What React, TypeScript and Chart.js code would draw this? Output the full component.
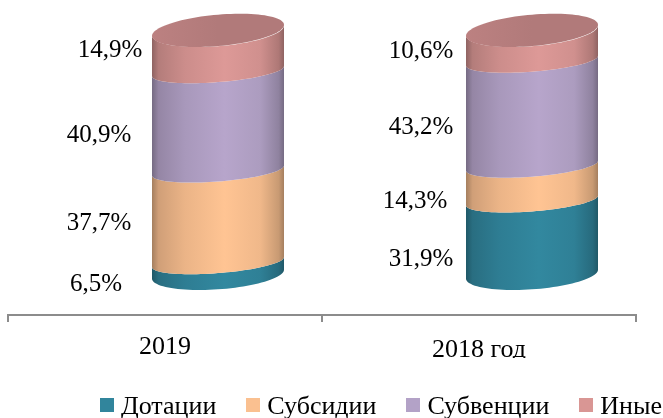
import React, { useEffect, useRef } from "react";
import { Chart, registerables } from "chart.js";

Chart.register(...registerables);

const categories = ["2019", "2018 год"];
const seriesNames = ["Дотации", "Субсидии", "Субвенции", "Иные"];
const dotacii = [6.5, 31.9];
const subsidii = [37.7, 14.3];
const subvencii = [40.9, 43.2];
const inye = [14.9, 10.6];
const seriesColors = ["#31859C", "#FAC090", "#B3A2C7", "#D99694"];
const capColor = "#B57C7C";

const FONT = "'Liberation Serif', 'Times New Roman', serif";

// label nudges relative to category centre / segment centre, per series then category
const labelDx = [[-69, -58], [-66, -64], [-66, -58], [-55, -58]];
const labelDy = [[2, 8], [-5, 6], [3, 2], [-15, -8]];

function shade(hex: string, f: number) {
  const n = parseInt(hex.slice(1), 16);
  const c = [(n >> 16) & 255, (n >> 8) & 255, n & 255].map((v) => Math.round(v * f));
  return `rgb(${c[0]},${c[1]},${c[2]})`;
}

function curve(ctx: CanvasRenderingContext2D, cx: number, a: number, low: number, b: number, s: number, from: number, to: number, first: boolean) {
  const cy = low - Math.sqrt(b * b + s * s);
  const steps = 48;
  for (let i = 0; i <= steps; i++) {
    const t = from + ((to - from) * i) / steps;
    const x = cx + a * Math.cos(t);
    const y = cy + b * Math.sin(t) - s * Math.cos(t);
    if (i === 0 && first) ctx.moveTo(x, y);
    else ctx.lineTo(x, y);
  }
}

const cylinderPlugin = {
  id: "cylinder",
  beforeDatasetDraw() {
    return false;
  },
  afterDatasetsDraw(chart: any) {
    const ctx: CanvasRenderingContext2D = chart.ctx;
    const depthX = 53;
    const n = chart.data.datasets.length;
    ctx.save();
    for (let d = 0; d < n; d++) {
      const meta = chart.getDatasetMeta(d);
      const color = seriesColors[d];
      meta.data.forEach((bar: any) => {
        const p = bar.getProps(["x", "y", "base", "width"], true);
        const cx = p.x + depthX;
        const a = p.width / 2;
        const g = ctx.createLinearGradient(cx - a, 0, cx + a, 0);
        g.addColorStop(0, shade(color, 0.66));
        g.addColorStop(0.05, shade(color, 0.83));
        g.addColorStop(0.25, shade(color, 0.94));
        g.addColorStop(0.55, shade(color, 1.02));
        g.addColorStop(0.82, shade(color, 0.96));
        g.addColorStop(0.96, shade(color, 0.8));
        g.addColorStop(1, shade(color, 0.66));
        const lowB = d === 0 ? 15.2 : 11;
        const upB = d === n - 1 ? 15.7 : 11;
        ctx.beginPath();
        curve(ctx, cx, a, p.base, lowB, d === 0 ? 4.5 : 5, Math.PI, 0, true);
        curve(ctx, cx, a, p.y, upB, 5, 0, Math.PI, false);
        ctx.closePath();
        ctx.fillStyle = g;
        ctx.fill();
        if (d === n - 1) {
          const cg = ctx.createLinearGradient(cx - a, 0, cx + a, 0);
          cg.addColorStop(0, shade(capColor, 1.04));
          cg.addColorStop(0.5, shade(capColor, 0.98));
          cg.addColorStop(1, shade(capColor, 0.98));
          ctx.beginPath();
          curve(ctx, cx, a, p.y, upB, 5.5, 0, Math.PI, true);
          curve(ctx, cx, a, p.y, upB, 5.5, Math.PI, 2 * Math.PI, false);
          ctx.closePath();
          ctx.fillStyle = cg;
          ctx.fill();
        }
      });
    }
    ctx.fillStyle = "#000";
    ctx.font = `25px ${FONT}`;
    ctx.textAlign = "center";
    ctx.textBaseline = "middle";
    for (let d = 0; d < n; d++) {
      const meta = chart.getDatasetMeta(d);
      meta.data.forEach((bar: any, i: number) => {
        const p = bar.getProps(["x", "y", "base"], true);
        const v = chart.data.datasets[d].data[i] as number;
        const text = v.toFixed(1).replace(".", ",") + "%";
        ctx.fillText(text, p.x + labelDx[d][i], (p.y + p.base) / 2 + labelDy[d][i]);
      });
    }
    ctx.restore();
  },
};

function swatch(color: string) {
  const c = document.createElement("canvas");
  c.width = 14;
  c.height = 18;
  const x = c.getContext("2d")!;
  x.fillStyle = color;
  x.fillRect(0, 0, 14, 14);
  return c;
}

export default function App() {
  const ref = useRef<HTMLCanvasElement>(null);
  useEffect(() => {
    const values = [dotacii, subsidii, subvencii, inye];
    const chart = new Chart(ref.current!, {
      type: "bar",
      data: {
        labels: categories,
        datasets: seriesNames.map((name, i) => ({
          label: name,
          data: values[i],
          backgroundColor: seriesColors[i],
          barThickness: 132,
        })),
      },
      options: {
        responsive: false,
        animation: false,
        layout: { padding: { top: 47, left: 8, right: -35, bottom: -12 } },
        plugins: {
          tooltip: { enabled: false },
          legend: {
            position: "bottom",
            align: "end",
            labels: {
              usePointStyle: true,
              boxWidth: 2,
              padding: 36,
              color: "#000",
              font: { family: FONT, size: 26 },
              generateLabels: () =>
                seriesNames.map((name, i) => ({
                  text: name,
                  fillStyle: seriesColors[i],
                  strokeStyle: seriesColors[i],
                  lineWidth: 0,
                  pointStyle: swatch(seriesColors[i]),
                  datasetIndex: i,
                })),
            },
          },
        },
        scales: {
          x: {
            stacked: true,
            afterFit: (s: any) => {
              s.height = 43;
            },
            border: { color: "#8c8c8c", width: 2 },
            grid: { offset: true, drawOnChartArea: false, color: "#8c8c8c", lineWidth: 2, tickLength: 7 },
            ticks: {
              color: "#000",
              padding: 10,
              maxRotation: 0,
              font: (c: any) => ({ family: FONT, size: 26, lineHeight: c.index === 1 ? 1.43 : 1.2 }),
            },
          },
          y: {
            stacked: true,
            position: "right",
            min: -10.29,
            max: 100,
            afterFit: (s: any) => {
              s.width = 62;
            },
            border: { display: false },
            grid: { display: false },
            ticks: { display: false },
          },
        },
      },
      plugins: [cylinderPlugin],
    } as any);
    return () => chart.destroy();
  }, []);
  return (
    <div style={{ position: "fixed", left: 0, top: 0, width: 663, height: 418, background: "#fff" }}>
      <canvas ref={ref} width={663} height={418} style={{ display: "block" }} />
    </div>
  );
}
